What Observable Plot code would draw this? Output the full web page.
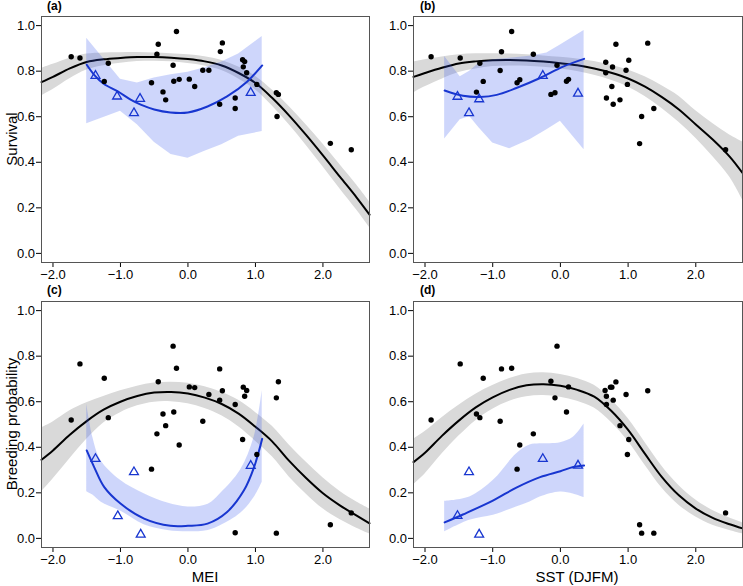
<!DOCTYPE html>
<html>
<head>
<meta charset="utf-8">
<script src="https://cdn.jsdelivr.net/npm/d3@7"></script>
<script src="https://cdn.jsdelivr.net/npm/@observablehq/plot@0.6"></script>
<style>
  body { margin: 0; background: white; }
  #wrap { position: relative; width: 743px; height: 586px; background: white; font-family: "Liberation Sans", Arial, sans-serif; color: black; }
  .pan { position: absolute; }
  .lab { position: absolute; white-space: nowrap; }
  .tag { font-weight: bold; font-size: 12px; }
  .xt { font-size: 15px; transform: translateX(-50%); }
  .yt { font-size: 15px; transform: translate(-50%, -50%) rotate(-90deg); }
</style>
</head>
<body>
<div id="wrap"></div>
<script>
// ---------- tick / axis labels ----------
const xTicks = [-2, -1, 0, 1, 2];
const yTicks = [0, 0.2, 0.4, 0.6, 0.8, 1.0];
const panelTags = ["(a)", "(b)", "(c)", "(d)"];
const xTitles = ["MEI", "SST (DJFM)"];
const yTitles = ["Survival", "Breeding probability"];

// ---------- panel (a): survival vs MEI ----------
const aDotX = [-1.73,-1.60,-1.18,-1.24,-0.44,-0.46,-0.54,-0.37,-0.33,-0.17,-0.22,-0.21,-0.13,0.02,0.10,0.22,0.31,0.51,0.48,0.47,0.70,0.70,0.81,0.84,0.82,0.87,1.02,1.31,1.34,1.32,2.11,2.42];
const aDotY = [0.863,0.858,0.835,0.755,0.918,0.874,0.749,0.709,0.674,0.974,0.826,0.756,0.764,0.765,0.733,0.804,0.804,0.924,0.886,0.655,0.682,0.636,0.850,0.842,0.819,0.793,0.742,0.705,0.698,0.601,0.483,0.455];
const aTriX = [-1.37,-1.05,-0.71,-0.80,0.93];
const aTriY = [0.780,0.689,0.679,0.616,0.705];
const aFitX = [-2.17,-2,-1.75,-1.5,-1.25,-1,-0.75,-0.5,-0.25,0,0.25,0.5,0.75,1,1.25,1.5,1.75,2,2.25,2.5,2.69];
const aFitY = [0.752,0.775,0.812,0.840,0.852,0.858,0.862,0.862,0.859,0.853,0.843,0.825,0.792,0.748,0.682,0.605,0.520,0.430,0.337,0.245,0.170];
const aFitLo = [0.692,0.720,0.767,0.805,0.824,0.835,0.842,0.844,0.841,0.834,0.823,0.803,0.766,0.718,0.647,0.565,0.475,0.380,0.284,0.190,0.114];
const aFitHi = [0.812,0.830,0.857,0.875,0.880,0.881,0.882,0.880,0.877,0.872,0.863,0.847,0.818,0.778,0.717,0.645,0.565,0.480,0.390,0.300,0.226];
const aBandX = [-1.5,-1.0,-0.75,-0.5,-0.25,0,0.25,0.5,0.75,1.1];
const aBandLo = [0.569,0.624,0.565,0.488,0.434,0.418,0.448,0.477,0.514,0.535];
const aBandHi = [0.945,0.765,0.748,0.770,0.784,0.795,0.815,0.840,0.875,0.952];
const aLineX = [-1.5,-1.39,-1.25,-1.04,-0.85,-0.7,-0.5,-0.26,0,0.29,0.58,0.88,1.1];
const aLineY = [0.828,0.784,0.745,0.711,0.675,0.653,0.632,0.619,0.619,0.645,0.689,0.755,0.825];

// ---------- panel (b): survival vs SST ----------
const bDotX = [-1.91,-1.48,-1.19,-1.14,-1.24,-0.87,-0.89,-0.72,-0.64,-0.60,-0.40,-0.14,-0.08,-0.05,0.09,0.12,0.67,0.67,0.68,0.77,0.82,0.76,0.78,0.88,0.97,1.01,0.99,1.20,1.17,1.29,1.38,2.44];
const bDotY = [0.863,0.858,0.835,0.755,0.708,0.885,0.803,0.974,0.749,0.762,0.874,0.698,0.705,0.826,0.756,0.764,0.839,0.793,0.682,0.818,0.918,0.733,0.655,0.674,0.804,0.848,0.742,0.601,0.482,0.923,0.636,0.455];
const bTriX = [-1.52,-1.35,-1.20,-0.26,0.26];
const bTriY = [0.688,0.616,0.677,0.780,0.702];
const bFitX = [-2.17,-2,-1.75,-1.5,-1.25,-1,-0.75,-0.5,-0.25,0,0.25,0.5,0.75,1,1.25,1.5,1.75,2,2.25,2.5,2.69];
const bFitY = [0.775,0.792,0.815,0.834,0.843,0.848,0.849,0.847,0.842,0.835,0.826,0.812,0.793,0.768,0.732,0.686,0.632,0.566,0.500,0.425,0.353];
const bFitLo = [0.705,0.732,0.765,0.794,0.810,0.820,0.823,0.822,0.817,0.809,0.799,0.782,0.760,0.731,0.689,0.636,0.576,0.506,0.425,0.335,0.235];
const bFitHi = [0.840,0.850,0.862,0.872,0.876,0.876,0.875,0.872,0.867,0.861,0.853,0.842,0.826,0.805,0.775,0.736,0.690,0.626,0.570,0.520,0.490];
const bBandX = [-1.71,-1.48,-1.34,-1.2,-1.0,-0.75,-0.45,-0.2,0,0.35];
const bBandLo = [0.502,0.587,0.601,0.550,0.485,0.459,0.499,0.543,0.580,0.455];
const bBandHi = [0.864,0.775,0.800,0.835,0.850,0.857,0.865,0.880,0.915,0.979];
const bLineX = [-1.71,-1.44,-1.19,-0.94,-0.65,-0.30,0.04,0.35];
const bLineY = [0.715,0.692,0.687,0.696,0.726,0.770,0.820,0.854];

// ---------- panel (c): breeding probability vs MEI ----------
const cDotX = [-1.73,-1.60,-1.24,-1.18,-0.54,-0.46,-0.44,-0.37,-0.33,-0.22,-0.21,-0.17,-0.13,0.02,0.10,0.22,0.31,0.47,0.47,0.51,0.70,0.70,0.81,0.82,0.84,0.87,1.02,1.31,1.31,1.34,2.11,2.42];
const cDotY = [0.520,0.766,0.703,0.530,0.304,0.459,0.688,0.546,0.495,0.844,0.555,0.747,0.410,0.665,0.662,0.514,0.632,0.744,0.607,0.648,0.588,0.025,0.434,0.664,0.624,0.649,0.368,0.023,0.617,0.688,0.060,0.112];
const cTriX = [-1.37,-1.04,-0.80,-0.70,0.93];
const cTriY = [0.349,0.098,0.291,0.017,0.319];
const cFitX = [-2.17,-2,-1.75,-1.5,-1.25,-1,-0.75,-0.5,-0.25,0,0.25,0.5,0.75,1,1.25,1.5,1.75,2,2.25,2.5,2.69];
const cFitY = [0.345,0.386,0.455,0.515,0.565,0.600,0.625,0.640,0.643,0.636,0.618,0.590,0.548,0.490,0.425,0.340,0.265,0.198,0.145,0.100,0.066];
const cFitLo = [0.205,0.261,0.350,0.435,0.507,0.552,0.582,0.598,0.600,0.591,0.570,0.538,0.490,0.427,0.358,0.270,0.195,0.130,0.083,0.045,0.020];
const cFitHi = [0.485,0.511,0.560,0.595,0.623,0.648,0.668,0.682,0.686,0.681,0.666,0.642,0.606,0.553,0.492,0.410,0.335,0.266,0.207,0.160,0.130];
const cBandX = [-1.5,-1.41,-1.29,-1.0,-0.65,-0.3,0,0.3,0.48,0.78,0.98,1.1];
const cBandLo = [0.205,0.190,0.160,0.120,0.060,0.035,0.029,0.035,0.055,0.110,0.180,0.247];
const cBandHi = [0.590,0.444,0.342,0.255,0.196,0.155,0.138,0.150,0.196,0.300,0.444,0.648];
const cLineX = [-1.5,-1.39,-1.24,-1.0,-0.65,-0.26,0,0.29,0.58,0.83,0.98,1.1];
const cLineY = [0.386,0.313,0.225,0.153,0.087,0.055,0.055,0.065,0.116,0.211,0.313,0.437];

// ---------- panel (d): breeding probability vs SST ----------
const dDotX = [-1.91,-1.48,-1.14,-1.24,-1.19,-0.87,-0.72,-0.89,-0.60,-0.64,-0.40,-0.14,-0.08,-0.05,0.09,0.12,0.66,0.68,0.68,0.76,0.78,0.82,0.97,0.88,1.01,0.99,1.17,1.20,1.38,1.29,2.44,0.74];
const dDotY = [0.520,0.766,0.703,0.546,0.530,0.744,0.747,0.514,0.410,0.304,0.459,0.690,0.617,0.844,0.555,0.665,0.649,0.624,0.588,0.664,0.607,0.687,0.632,0.495,0.434,0.368,0.060,0.023,0.023,0.648,0.112,0.664];
const dTriX = [-1.52,-1.35,-1.20,-0.26,0.26];
const dTriY = [0.099,0.291,0.017,0.349,0.320];
const dFitX = [-2.17,-2,-1.75,-1.5,-1.25,-1,-0.75,-0.5,-0.25,0,0.25,0.5,0.75,1,1.25,1.5,1.75,2,2.25,2.5,2.69];
const dFitY = [0.335,0.376,0.450,0.517,0.575,0.619,0.652,0.672,0.677,0.670,0.652,0.622,0.560,0.476,0.371,0.269,0.189,0.131,0.090,0.062,0.044];
const dFitLo = [0.235,0.283,0.370,0.449,0.517,0.567,0.602,0.622,0.627,0.620,0.602,0.572,0.510,0.426,0.321,0.221,0.146,0.094,0.058,0.035,0.020];
const dFitHi = [0.435,0.469,0.530,0.585,0.633,0.671,0.702,0.722,0.727,0.720,0.702,0.672,0.610,0.526,0.421,0.317,0.232,0.168,0.122,0.089,0.068];
const dBandX = [-1.71,-1.34,-0.99,-0.65,-0.45,-0.3,0,0.19,0.35];
const dBandLo = [0.029,0.080,0.102,0.138,0.160,0.182,0.204,0.195,0.179];
const dBandHi = [0.163,0.182,0.255,0.371,0.410,0.415,0.420,0.444,0.502];
const dLineX = [-1.71,-1.44,-0.99,-0.65,-0.30,0,0.19,0.35];
const dLineY = [0.070,0.105,0.167,0.223,0.269,0.295,0.313,0.320];

// ---------- helpers ----------
const zip2 = (xs, ys) => xs.map((x, i) => ({x, y: ys[i]}));
const zip3 = (xs, lo, hi) => xs.map((x, i) => ({x, lo: lo[i], hi: hi[i]}));

const BLUE = "#1836d0";
const GREY = "#d9d9d9";

function panel(p) {
  return Plot.plot({
    width: p.width, height: p.height,
    marginLeft: p.ml, marginRight: p.mr, marginTop: p.mt, marginBottom: p.mb,
    style: {fontFamily: "'Liberation Sans', Arial, sans-serif", fontSize: "13px", background: "white", color: "black", overflow: "visible"},
    x: {domain: [-2.17, 2.69], ticks: xTicks, tickSize: 5, tickPadding: 2, label: null},
    y: {domain: [-0.04, 1.04], ticks: yTicks, tickFormat: d3.format(".1f"), tickSize: 5, tickPadding: 1.5, label: null},
    marks: [
      Plot.areaY(zip3(p.fitX, p.fitLo, p.fitHi), {x: "x", y1: "lo", y2: "hi", fill: GREY, curve: "catmull-rom"}),
      Plot.line(zip2(p.fitX, p.fitY), {x: "x", y: "y", stroke: "black", strokeWidth: 2, curve: "catmull-rom"}),
      Plot.areaY(zip3(p.bandX, p.bandLo, p.bandHi), {x: "x", y1: "lo", y2: "hi", fill: "#3355ee", fillOpacity: 0.24, curve: p.bandCurve}),
      Plot.line(zip2(p.lineX, p.lineY), {x: "x", y: "y", stroke: BLUE, strokeWidth: 2, curve: "catmull-rom"}),
      Plot.dot(zip2(p.dotX, p.dotY), {x: "x", y: "y", r: 2.7, fill: "black", stroke: "none"}),
      Plot.dot(zip2(p.triX, p.triY), {x: "x", y: "y", symbol: "triangle", r: 3.3, fill: "none", stroke: BLUE, strokeWidth: 1.3}),
      Plot.frame({stroke: "#555", strokeWidth: 1})
    ]
  });
}

const wrap = document.getElementById("wrap");
function place(el, left, top) {
  el.classList.add("pan");
  el.style.left = left + "px";
  el.style.top = top + "px";
  wrap.appendChild(el);
}
function label(text, cls, left, top) {
  const d = document.createElement("div");
  d.className = "lab " + cls;
  d.textContent = text;
  d.style.left = left + "px";
  d.style.top = top + "px";
  wrap.appendChild(d);
}

place(panel({width: 372, height: 290, ml: 41, mr: 3, mt: 16, mb: 28,
  fitX: aFitX, fitY: aFitY, fitLo: aFitLo, fitHi: aFitHi,
  bandX: aBandX, bandLo: aBandLo, bandHi: aBandHi, bandCurve: "linear",
  lineX: aLineX, lineY: aLineY, dotX: aDotX, dotY: aDotY, triX: aTriX, triY: aTriY}), 0, 0);
place(panel({width: 371, height: 290, ml: 41, mr: 1, mt: 16, mb: 28,
  fitX: bFitX, fitY: bFitY, fitLo: bFitLo, fitHi: bFitHi,
  bandX: bBandX, bandLo: bBandLo, bandHi: bBandHi, bandCurve: "linear",
  lineX: bLineX, lineY: bLineY, dotX: bDotX, dotY: bDotY, triX: bTriX, triY: bTriY}), 372, 0);
place(panel({width: 372, height: 296, ml: 41, mr: 3, mt: 11, mb: 39,
  fitX: cFitX, fitY: cFitY, fitLo: cFitLo, fitHi: cFitHi,
  bandX: cBandX, bandLo: cBandLo, bandHi: cBandHi, bandCurve: "catmull-rom",
  lineX: cLineX, lineY: cLineY, dotX: cDotX, dotY: cDotY, triX: cTriX, triY: cTriY}), 0, 290);
place(panel({width: 371, height: 296, ml: 41, mr: 1, mt: 11, mb: 39,
  fitX: dFitX, fitY: dFitY, fitLo: dFitLo, fitHi: dFitHi,
  bandX: dBandX, bandLo: dBandLo, bandHi: dBandHi, bandCurve: "catmull-rom",
  lineX: dLineX, lineY: dLineY, dotX: dDotX, dotY: dDotY, triX: dTriX, triY: dTriY}), 372, 290);

// panel tags
label(panelTags[0], "tag", 47, -1);
label(panelTags[1], "tag", 420, -1);
label(panelTags[2], "tag", 47, 283);
label(panelTags[3], "tag", 420, 283);
// axis titles
label(xTitles[0], "xt", 205, 568);
label(xTitles[1], "xt", 577, 568);
label(yTitles[0], "yt", 11, 139);
label(yTitles[1], "yt", 11, 424);
</script>
</body>
</html>
